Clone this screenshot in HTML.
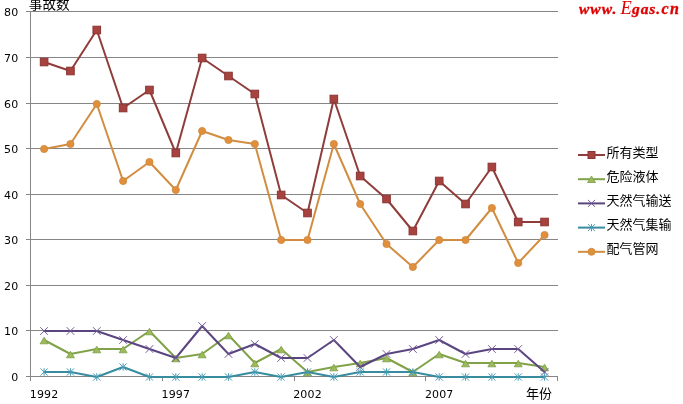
<!DOCTYPE html>
<html><head><meta charset="utf-8"><title>chart</title>
<style>
html,body{margin:0;padding:0;background:#fff;}
body{width:683px;height:404px;overflow:hidden;}
svg{display:block;will-change:transform;}
.num{font-family:"DejaVu Sans","Liberation Sans",sans-serif;font-size:11px;fill:#000;letter-spacing:0.15px;}
.cjk{font-family:"Liberation Sans","Noto Sans CJK SC",sans-serif;font-size:13px;fill:#000;}
.wm{font-family:"Liberation Serif",serif;font-style:italic;font-weight:bold;font-size:16.5px;fill:#E00000;letter-spacing:0.2px;stroke:#E00000;stroke-width:0.35px;}
</style></head>
<body>
<svg width="683" height="404" viewBox="0 0 683 404">
<line x1="26" y1="330.5" x2="558" y2="330.5" stroke="#868686" stroke-width="1"/>
<line x1="26" y1="285.5" x2="558" y2="285.5" stroke="#868686" stroke-width="1"/>
<line x1="26" y1="239.5" x2="558" y2="239.5" stroke="#868686" stroke-width="1"/>
<line x1="26" y1="194.5" x2="558" y2="194.5" stroke="#868686" stroke-width="1"/>
<line x1="26" y1="148.5" x2="558" y2="148.5" stroke="#868686" stroke-width="1"/>
<line x1="26" y1="103.5" x2="558" y2="103.5" stroke="#868686" stroke-width="1"/>
<line x1="26" y1="57.5" x2="558" y2="57.5" stroke="#868686" stroke-width="1"/>
<line x1="26" y1="11.5" x2="558" y2="11.5" stroke="#868686" stroke-width="1"/>
<line x1="30.5" y1="11" x2="30.5" y2="381" stroke="#868686" stroke-width="1"/>
<line x1="26" y1="376.5" x2="558" y2="376.5" stroke="#868686" stroke-width="1"/>
<line x1="162.5" y1="376.5" x2="162.5" y2="381" stroke="#868686" stroke-width="1"/>
<line x1="294.5" y1="376.5" x2="294.5" y2="381" stroke="#868686" stroke-width="1"/>
<line x1="425.5" y1="376.5" x2="425.5" y2="381" stroke="#868686" stroke-width="1"/>
<line x1="557.5" y1="376.5" x2="557.5" y2="381" stroke="#868686" stroke-width="1"/>
<polyline points="44.10,62.00 70.44,71.00 96.78,30.00 123.12,108.00 149.46,90.00 175.80,153.00 202.14,58.00 228.48,76.00 254.82,94.00 281.16,195.00 307.50,213.00 333.84,99.00 360.18,176.00 386.52,199.00 412.86,231.00 439.20,181.00 465.54,204.00 491.88,167.00 518.22,222.00 544.56,222.00" fill="none" stroke="#8E3D3B" stroke-width="2" stroke-linejoin="round" stroke-linecap="round"/><g fill="#A8423F" stroke="#8A3634" stroke-width="1"><rect x="40.30" y="58.20" width="7.6" height="7.6"/><rect x="66.64" y="67.20" width="7.6" height="7.6"/><rect x="92.98" y="26.20" width="7.6" height="7.6"/><rect x="119.32" y="104.20" width="7.6" height="7.6"/><rect x="145.66" y="86.20" width="7.6" height="7.6"/><rect x="172.00" y="149.20" width="7.6" height="7.6"/><rect x="198.34" y="54.20" width="7.6" height="7.6"/><rect x="224.68" y="72.20" width="7.6" height="7.6"/><rect x="251.02" y="90.20" width="7.6" height="7.6"/><rect x="277.36" y="191.20" width="7.6" height="7.6"/><rect x="303.70" y="209.20" width="7.6" height="7.6"/><rect x="330.04" y="95.20" width="7.6" height="7.6"/><rect x="356.38" y="172.20" width="7.6" height="7.6"/><rect x="382.72" y="195.20" width="7.6" height="7.6"/><rect x="409.06" y="227.20" width="7.6" height="7.6"/><rect x="435.40" y="177.20" width="7.6" height="7.6"/><rect x="461.74" y="200.20" width="7.6" height="7.6"/><rect x="488.08" y="163.20" width="7.6" height="7.6"/><rect x="514.42" y="218.20" width="7.6" height="7.6"/><rect x="540.76" y="218.20" width="7.6" height="7.6"/></g>
<polyline points="44.10,340.00 70.44,354.00 96.78,349.00 123.12,349.00 149.46,331.00 175.80,358.00 202.14,354.00 228.48,335.00 254.82,363.00 281.16,349.00 307.50,372.00 333.84,367.00 360.18,363.00 386.52,358.00 412.86,372.00 439.20,354.00 465.54,363.00 491.88,363.00 518.22,363.00 544.56,367.00" fill="none" stroke="#80A249" stroke-width="2" stroke-linejoin="round" stroke-linecap="round"/><g fill="#9BBB59" stroke="#7E9C48" stroke-width="0.8"><polygon points="44.10,337.30 48.10,343.80 40.10,343.80"/><polygon points="70.44,351.30 74.44,357.80 66.44,357.80"/><polygon points="96.78,346.30 100.78,352.80 92.78,352.80"/><polygon points="123.12,346.30 127.12,352.80 119.12,352.80"/><polygon points="149.46,328.30 153.46,334.80 145.46,334.80"/><polygon points="175.80,355.30 179.80,361.80 171.80,361.80"/><polygon points="202.14,351.30 206.14,357.80 198.14,357.80"/><polygon points="228.48,332.30 232.48,338.80 224.48,338.80"/><polygon points="254.82,360.30 258.82,366.80 250.82,366.80"/><polygon points="281.16,346.30 285.16,352.80 277.16,352.80"/><polygon points="307.50,369.30 311.50,375.80 303.50,375.80"/><polygon points="333.84,364.30 337.84,370.80 329.84,370.80"/><polygon points="360.18,360.30 364.18,366.80 356.18,366.80"/><polygon points="386.52,355.30 390.52,361.80 382.52,361.80"/><polygon points="412.86,369.30 416.86,375.80 408.86,375.80"/><polygon points="439.20,351.30 443.20,357.80 435.20,357.80"/><polygon points="465.54,360.30 469.54,366.80 461.54,366.80"/><polygon points="491.88,360.30 495.88,366.80 487.88,366.80"/><polygon points="518.22,360.30 522.22,366.80 514.22,366.80"/><polygon points="544.56,364.30 548.56,370.80 540.56,370.80"/></g>
<polyline points="44.10,331.00 70.44,331.00 96.78,331.00 123.12,340.00 149.46,349.00 175.80,358.00 202.14,326.00 228.48,354.00 254.82,344.00 281.16,358.00 307.50,358.00 333.84,340.00 360.18,367.00 386.52,354.00 412.86,349.00 439.20,340.00 465.54,354.00 491.88,349.00 518.22,349.00 544.56,372.00" fill="none" stroke="#5B4580" stroke-width="2" stroke-linejoin="round" stroke-linecap="round"/><g fill="none" stroke="#705996" stroke-width="1"><path d="M40.30,327.20L47.90,334.80M47.90,327.20L40.30,334.80"/><path d="M66.64,327.20L74.24,334.80M74.24,327.20L66.64,334.80"/><path d="M92.98,327.20L100.58,334.80M100.58,327.20L92.98,334.80"/><path d="M119.32,336.20L126.92,343.80M126.92,336.20L119.32,343.80"/><path d="M145.66,345.20L153.26,352.80M153.26,345.20L145.66,352.80"/><path d="M172.00,354.20L179.60,361.80M179.60,354.20L172.00,361.80"/><path d="M198.34,322.20L205.94,329.80M205.94,322.20L198.34,329.80"/><path d="M224.68,350.20L232.28,357.80M232.28,350.20L224.68,357.80"/><path d="M251.02,340.20L258.62,347.80M258.62,340.20L251.02,347.80"/><path d="M277.36,354.20L284.96,361.80M284.96,354.20L277.36,361.80"/><path d="M303.70,354.20L311.30,361.80M311.30,354.20L303.70,361.80"/><path d="M330.04,336.20L337.64,343.80M337.64,336.20L330.04,343.80"/><path d="M356.38,363.20L363.98,370.80M363.98,363.20L356.38,370.80"/><path d="M382.72,350.20L390.32,357.80M390.32,350.20L382.72,357.80"/><path d="M409.06,345.20L416.66,352.80M416.66,345.20L409.06,352.80"/><path d="M435.40,336.20L443.00,343.80M443.00,336.20L435.40,343.80"/><path d="M461.74,350.20L469.34,357.80M469.34,350.20L461.74,357.80"/><path d="M488.08,345.20L495.68,352.80M495.68,345.20L488.08,352.80"/><path d="M514.42,345.20L522.02,352.80M522.02,345.20L514.42,352.80"/><path d="M540.76,368.20L548.36,375.80M548.36,368.20L540.76,375.80"/></g>
<polyline points="44.10,372.00 70.44,372.00 96.78,377.00 123.12,367.00 149.46,377.00 175.80,377.00 202.14,377.00 228.48,377.00 254.82,372.00 281.16,377.00 307.50,372.00 333.84,377.00 360.18,372.00 386.52,372.00 412.86,372.00 439.20,377.00 465.54,377.00 491.88,377.00 518.22,377.00 544.56,377.00" fill="none" stroke="#388C9F" stroke-width="2" stroke-linejoin="round" stroke-linecap="round"/><g fill="none" stroke="#4A9DB5" stroke-width="1"><path d="M40.50,368.40L47.70,375.60M47.70,368.40L40.50,375.60M44.10,368.22L44.10,375.78"/><path d="M66.84,368.40L74.04,375.60M74.04,368.40L66.84,375.60M70.44,368.22L70.44,375.78"/><path d="M93.18,373.40L100.38,380.60M100.38,373.40L93.18,380.60M96.78,373.22L96.78,380.78"/><path d="M119.52,363.40L126.72,370.60M126.72,363.40L119.52,370.60M123.12,363.22L123.12,370.78"/><path d="M145.86,373.40L153.06,380.60M153.06,373.40L145.86,380.60M149.46,373.22L149.46,380.78"/><path d="M172.20,373.40L179.40,380.60M179.40,373.40L172.20,380.60M175.80,373.22L175.80,380.78"/><path d="M198.54,373.40L205.74,380.60M205.74,373.40L198.54,380.60M202.14,373.22L202.14,380.78"/><path d="M224.88,373.40L232.08,380.60M232.08,373.40L224.88,380.60M228.48,373.22L228.48,380.78"/><path d="M251.22,368.40L258.42,375.60M258.42,368.40L251.22,375.60M254.82,368.22L254.82,375.78"/><path d="M277.56,373.40L284.76,380.60M284.76,373.40L277.56,380.60M281.16,373.22L281.16,380.78"/><path d="M303.90,368.40L311.10,375.60M311.10,368.40L303.90,375.60M307.50,368.22L307.50,375.78"/><path d="M330.24,373.40L337.44,380.60M337.44,373.40L330.24,380.60M333.84,373.22L333.84,380.78"/><path d="M356.58,368.40L363.78,375.60M363.78,368.40L356.58,375.60M360.18,368.22L360.18,375.78"/><path d="M382.92,368.40L390.12,375.60M390.12,368.40L382.92,375.60M386.52,368.22L386.52,375.78"/><path d="M409.26,368.40L416.46,375.60M416.46,368.40L409.26,375.60M412.86,368.22L412.86,375.78"/><path d="M435.60,373.40L442.80,380.60M442.80,373.40L435.60,380.60M439.20,373.22L439.20,380.78"/><path d="M461.94,373.40L469.14,380.60M469.14,373.40L461.94,380.60M465.54,373.22L465.54,380.78"/><path d="M488.28,373.40L495.48,380.60M495.48,373.40L488.28,380.60M491.88,373.22L491.88,380.78"/><path d="M514.62,373.40L521.82,380.60M521.82,373.40L514.62,380.60M518.22,373.22L518.22,380.78"/><path d="M540.96,373.40L548.16,380.60M548.16,373.40L540.96,380.60M544.56,373.22L544.56,380.78"/></g>
<polyline points="44.10,149.00 70.44,144.00 96.78,104.00 123.12,181.00 149.46,162.00 175.80,190.00 202.14,131.00 228.48,140.00 254.82,144.00 281.16,240.00 307.50,240.00 333.84,144.00 360.18,204.00 386.52,244.00 412.86,267.00 439.20,240.00 465.54,240.00 491.88,208.00 518.22,263.00 544.56,235.00" fill="none" stroke="#D18D40" stroke-width="2" stroke-linejoin="round" stroke-linecap="round"/><g fill="#E08F3D" stroke="#CF8638" stroke-width="0.8"><circle cx="44.10" cy="149.00" r="3.6"/><circle cx="70.44" cy="144.00" r="3.6"/><circle cx="96.78" cy="104.00" r="3.6"/><circle cx="123.12" cy="181.00" r="3.6"/><circle cx="149.46" cy="162.00" r="3.6"/><circle cx="175.80" cy="190.00" r="3.6"/><circle cx="202.14" cy="131.00" r="3.6"/><circle cx="228.48" cy="140.00" r="3.6"/><circle cx="254.82" cy="144.00" r="3.6"/><circle cx="281.16" cy="240.00" r="3.6"/><circle cx="307.50" cy="240.00" r="3.6"/><circle cx="333.84" cy="144.00" r="3.6"/><circle cx="360.18" cy="204.00" r="3.6"/><circle cx="386.52" cy="244.00" r="3.6"/><circle cx="412.86" cy="267.00" r="3.6"/><circle cx="439.20" cy="240.00" r="3.6"/><circle cx="465.54" cy="240.00" r="3.6"/><circle cx="491.88" cy="208.00" r="3.6"/><circle cx="518.22" cy="263.00" r="3.6"/><circle cx="544.56" cy="235.00" r="3.6"/></g>
<text x="18.4" y="380.9" text-anchor="end" class="num">0</text>
<text x="18.4" y="334.9" text-anchor="end" class="num">10</text>
<text x="18.4" y="289.9" text-anchor="end" class="num">20</text>
<text x="18.4" y="243.9" text-anchor="end" class="num">30</text>
<text x="18.4" y="198.9" text-anchor="end" class="num">40</text>
<text x="18.4" y="152.9" text-anchor="end" class="num">50</text>
<text x="18.4" y="107.9" text-anchor="end" class="num">60</text>
<text x="18.4" y="61.9" text-anchor="end" class="num">70</text>
<text x="18.4" y="15.9" text-anchor="end" class="num">80</text>
<text x="44.1" y="398" text-anchor="middle" class="num">1992</text>
<text x="175.8" y="398" text-anchor="middle" class="num">1997</text>
<text x="307.5" y="398" text-anchor="middle" class="num">2002</text>
<text x="439.2" y="398" text-anchor="middle" class="num">2007</text>
<text x="28.8" y="9.2" class="cjk" style="font-size:13.6px">事故数</text>
<text x="526" y="398" class="cjk">年份</text>
<line x1="578" y1="155.0" x2="605" y2="155.0" stroke="#8E3D3B" stroke-width="2"/>
<g fill="#A8423F" stroke="#8A3634" stroke-width="1"><rect x="588.00" y="151.50" width="7" height="7"/></g>
<text x="606.5" y="156.5" class="cjk">所有类型</text>
<line x1="578" y1="179.2" x2="605" y2="179.2" stroke="#80A249" stroke-width="2"/>
<g fill="#9BBB59" stroke="#7E9C48" stroke-width="0.8"><polygon points="591.50,176.00 595.50,182.50 587.50,182.50"/></g>
<text x="606.5" y="180.7" class="cjk">危险液体</text>
<line x1="578" y1="203.4" x2="605" y2="203.4" stroke="#5B4580" stroke-width="2"/>
<g fill="none" stroke="#705996" stroke-width="1"><path d="M588.00,199.90L595.00,206.90M595.00,199.90L588.00,206.90"/></g>
<text x="606.5" y="204.9" class="cjk">天然气输送</text>
<line x1="578" y1="227.6" x2="605" y2="227.6" stroke="#388C9F" stroke-width="2"/>
<g fill="none" stroke="#4A9DB5" stroke-width="1"><path d="M588.00,224.10L595.00,231.10M595.00,224.10L588.00,231.10M591.50,223.92L591.50,231.28"/></g>
<text x="606.5" y="229.1" class="cjk">天然气集输</text>
<line x1="578" y1="251.8" x2="605" y2="251.8" stroke="#D18D40" stroke-width="2"/>
<g fill="#E08F3D" stroke="#CF8638" stroke-width="0.8"><circle cx="591.50" cy="251.80" r="3.5"/></g>
<text x="606.5" y="253.3" class="cjk">配气管网</text>
<text y="13.5" class="wm"><tspan x="579" style="font-size:15.5px;letter-spacing:1px">www.</tspan><tspan x="620.5" font-weight="normal" style="font-size:18.5px;stroke-width:0">E</tspan><tspan style="font-size:15.5px;letter-spacing:0.9px">gas.</tspan><tspan x="661.5" style="font-size:16px;letter-spacing:1.5px">cn</tspan></text>
</svg>
</body></html>
